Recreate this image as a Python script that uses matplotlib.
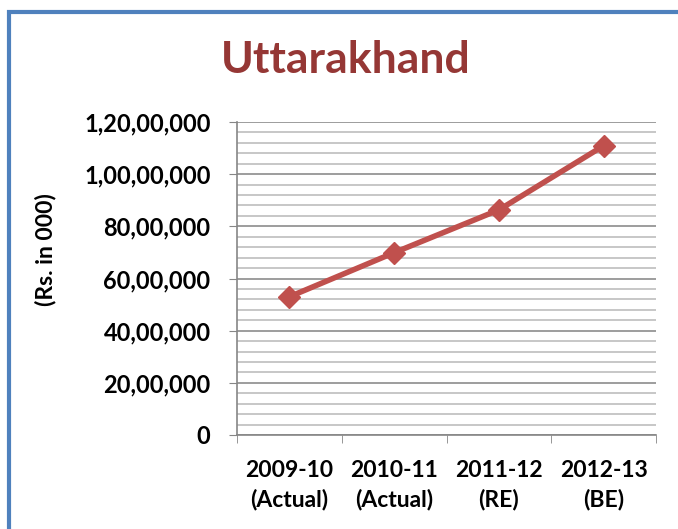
import matplotlib
matplotlib.use("Agg")
import matplotlib.pyplot as plt
from matplotlib.ticker import MultipleLocator, FuncFormatter, FixedLocator
from matplotlib.patches import Rectangle

categories = ["2009-10\n(Actual)", "2010-11\n(Actual)", "2011-12\n(RE)", "2012-13\n(BE)"]
values = [5300000, 6990000, 8630000, 11090000]
title = "Uttarakhand"
ylabel = "(Rs. in 000)"

plt.rcParams['font.family'] = ['Lato', 'DejaVu Sans']

def indian_fmt(v, pos=None):
    n = int(round(v))
    if n == 0:
        return "0"
    s = str(n)
    last3 = s[-3:]
    rest = s[:-3]
    parts = []
    while len(rest) > 2:
        parts.insert(0, rest[-2:])
        rest = rest[:-2]
    if rest:
        parts.insert(0, rest)
    return ",".join(parts + [last3])

fig = plt.figure(figsize=(6.78, 5.29), dpi=100)
fig.patch.set_facecolor("white")

# outer frame (partially cropped)
fig.patches.append(Rectangle((9/678, -0.2), 1.2, (529-12)/529 + 0.2, transform=fig.transFigure,
                             fill=False, edgecolor="#4F81BD", linewidth=3, zorder=10))

ax = fig.add_axes([237/678, (529-435)/529, (656-237)/678, (435-122)/529])
x = list(range(len(categories)))
ax.plot(x, values, color="#C0504D", linewidth=4, marker="D", markersize=11,
        markerfacecolor="#C0504D", markeredgecolor="#C0504D", zorder=5, clip_on=False)

ax.set_xlim(-0.5, len(categories) - 0.5)
ax.set_ylim(0, 12000000)
ax.yaxis.set_major_locator(MultipleLocator(2000000))
ax.yaxis.set_minor_locator(MultipleLocator(400000))
ax.yaxis.set_major_formatter(FuncFormatter(indian_fmt))
ax.grid(which="major", axis="y", color="#8C8C8C", linewidth=1.2)
ax.grid(which="minor", axis="y", color="#BEBEBE", linewidth=1.2)
ax.set_axisbelow(True)

ax.set_xticks(x)
ax.set_xticklabels(categories, fontsize=16.5, fontweight="bold", linespacing=1.45)
ax.xaxis.set_minor_locator(FixedLocator([i - 0.5 for i in range(len(categories) + 1)]))
ax.tick_params(axis="x", which="major", length=0, pad=18)
ax.tick_params(axis="x", which="minor", length=6, color="#868686", direction="out")
ax.tick_params(axis="y", which="major", length=6, color="#868686", labelsize=17, pad=13)
ax.tick_params(axis="y", which="minor", length=0)
for lbl in ax.get_yticklabels():
    lbl.set_fontweight("bold")

for s in ["top", "right"]:
    ax.spines[s].set_visible(False)
for s in ["left", "bottom"]:
    ax.spines[s].set_color("#868686")
    ax.spines[s].set_linewidth(1.2)

fig.text(346/678, (529-60)/529, title, ha="center", va="center", fontsize=32,
         fontweight="bold", color="#953735")
fig.text(45/678, (529-250)/529, ylabel, ha="center", va="center", rotation=90,
         fontsize=16.5, fontweight="bold")

fig.savefig("out.png", dpi=100)
